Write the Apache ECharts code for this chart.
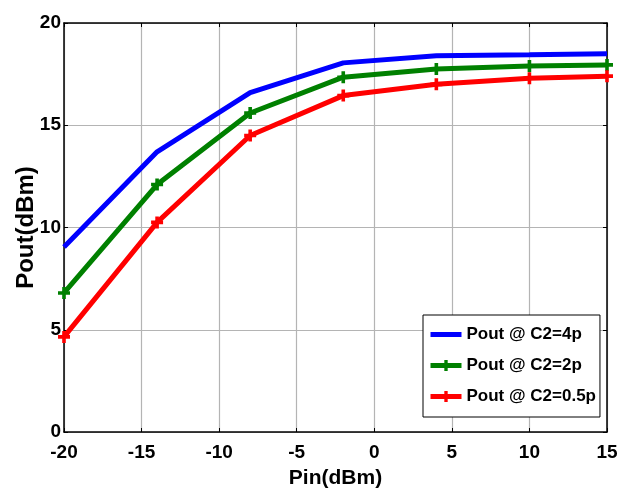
<!DOCTYPE html>
<html lang="en">
<head>
    <meta charset="UTF-8">
    <title>Pout vs Pin</title>
    <script src="https://cdn.jsdelivr.net/npm/echarts@6/dist/echarts.min.js"></script>
    <style>
        html, body { margin: 0; padding: 0; background: #fff; }
    </style>
</head>
<body>
<div style="width:620px;height:493px" id="main"></div>
<script>
    // input power (dBm)
    var pin = [-20, -14, -8, -2, 4, 10, 15];
    // output power for each C2 value
    var pout4p = [9.05, 13.7, 16.6, 18.05, 18.4, 18.45, 18.5];
    var pout2p = [6.8, 12.1, 15.6, 17.35, 17.75, 17.9, 17.95];
    var pout05p = [4.65, 10.25, 14.5, 16.45, 17.0, 17.3, 17.4];
    var seriesNames = ['Pout @ C2=4p', 'Pout @ C2=2p', 'Pout @ C2=0.5p'];

    var font = '"Liberation Sans", Arial, sans-serif';
    // thick plus marker
    var plus = 'path://M3.5,0L6.5,0L6.5,3.5L10,3.5L10,6.5L6.5,6.5L6.5,10L3.5,10L3.5,6.5L0,6.5L0,3.5L3.5,3.5Z';

    function pairs(ys) {
        return pin.map(function (x, i) { return [x, ys[i]]; });
    }

    function mkSeries(name, ys, color, marker) {
        return {
            name: name,
            type: 'line',
            data: pairs(ys),
            xAxisIndex: 0,
            yAxisIndex: 0,
            symbol: plus,
            symbolSize: 12,
            showSymbol: marker,
            lineStyle: { color: color, width: 5 },
            // transparent marker for the plain blue line, so its legend shows only a line
            itemStyle: { color: marker ? color : 'rgba(0,0,0,0)' },
            animation: false
        };
    }

    var chart = echarts.init(document.getElementById('main'));
    var option = {
        backgroundColor: '#fff',
        grid: { left: 64, right: 13, top: 23, bottom: 61, containLabel: false, outerBoundsMode: 'none' },
        legend: {
            data: seriesNames,
            orient: 'vertical',
            left: 423,
            top: 315,
            padding: [11, 4, 12, 5],
            itemWidth: 31,
            itemHeight: 14,
            itemGap: 14,
            backgroundColor: '#fff',
            borderColor: '#000',
            borderWidth: 1,
            lineStyle: { width: 5 },
            textStyle: {
                fontFamily: font, fontWeight: 'bold', fontSize: 17, color: '#000'
            }
        },
        xAxis: [{
            type: 'value', min: -20, max: 15, interval: 5,
            name: 'Pin(dBm)', nameLocation: 'middle', nameGap: 36, nameMoveOverlap: false,
            nameTextStyle: { fontFamily: font, fontWeight: 'bold', fontSize: 21, color: '#000' },
            axisLine: { onZero: false, lineStyle: { color: '#000', width: 1.5 } },
            axisTick: { inside: true, length: 4, lineStyle: { color: '#000' } },
            axisLabel: { margin: 11, fontFamily: font, fontWeight: 'bold', fontSize: 19, color: '#000' },
            splitLine: { show: true, lineStyle: { color: '#b4b4b4', width: 1.2 } }
        }, {
            type: 'value', position: 'top', min: -20, max: 15, interval: 5,
            axisLine: { onZero: false, lineStyle: { color: '#000', width: 1.5 } },
            axisTick: { inside: true, length: 4, lineStyle: { color: '#000' } },
            axisLabel: { show: false },
            splitLine: { show: false }
        }],
        yAxis: [{
            type: 'value', min: 0, max: 20, interval: 5,
            name: 'Pout(dBm)', nameLocation: 'middle', nameGap: 26, nameMoveOverlap: false,
            nameTextStyle: { fontFamily: font, fontWeight: 'bold', fontSize: 24, color: '#000' },
            axisLine: { onZero: false, lineStyle: { color: '#000', width: 1.5 } },
            axisTick: { inside: true, length: 4, lineStyle: { color: '#000' } },
            axisLabel: { margin: 3, fontFamily: font, fontWeight: 'bold', fontSize: 19, color: '#000' },
            splitLine: { show: true, lineStyle: { color: '#b4b4b4', width: 1.2 } }
        }, {
            type: 'value', position: 'right', min: 0, max: 20, interval: 5,
            axisLine: { onZero: false, lineStyle: { color: '#000', width: 1.5 } },
            axisTick: { inside: true, length: 4, lineStyle: { color: '#000' } },
            axisLabel: { show: false },
            splitLine: { show: false }
        }],
        series: [
            mkSeries(seriesNames[0], pout4p, '#0000ff', false),
            mkSeries(seriesNames[1], pout2p, '#008000', true),
            mkSeries(seriesNames[2], pout05p, '#ff0000', true)
        ]
    };
    chart.setOption(option);
</script>
</body>
</html>
